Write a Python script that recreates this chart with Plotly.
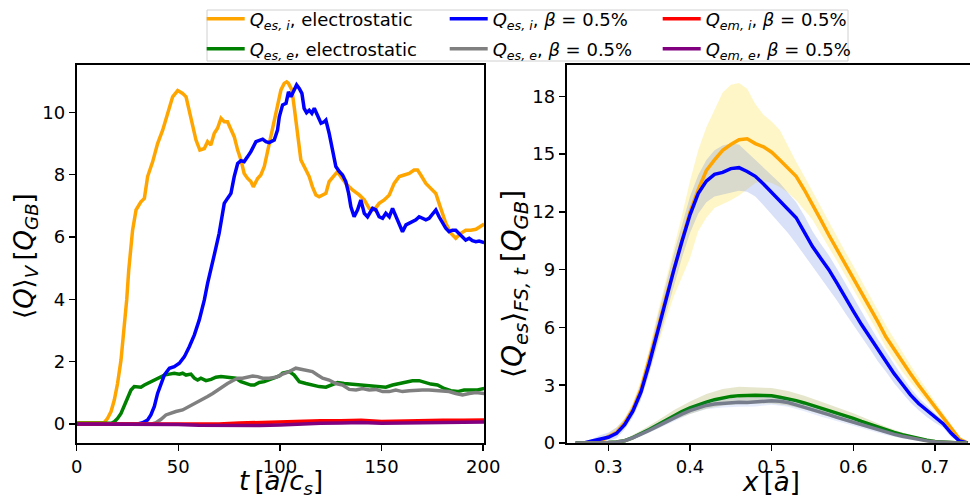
import numpy as np
import plotly.graph_objects as go

# ---------------- Left panel: <Q>_V vs t ----------------
t_qesi_es = [0, 5, 10, 13.6, 15.2, 16.9, 18.5, 20.1, 21.8, 23.4, 24.6, 25.6, 26.7, 27.5, 29.2, 31.6, 33.3, 34.9,
             37.4, 39.8, 42.3, 43.9, 45.6, 47.2, 49.7, 52.1, 53.8, 55.4, 57, 58.7, 60.6, 62.8, 64.4, 66, 67.7,
             69.3, 71, 72.6, 74.2, 75.9, 77.5, 79.2, 80.8, 82.4, 84.1, 85.7, 86.9, 89, 90.6, 92.3, 93.9, 95.6,
             97.2, 98.8, 100.5, 102.1, 103.3, 104.2, 105.9, 107, 108.7, 110.3, 112.8, 114.4, 116, 117.7, 119.3,
             120.9, 122.6, 124.2, 126.7, 128.3, 129.9, 132.4, 135.7, 139, 141.5, 143.9, 146.4, 148.8, 151.3,
             153.8, 156.2, 158.7, 161.1, 163.6, 166, 167.7, 169.3, 171.8, 174.2, 176.7, 178.3, 180, 181.6,
             184.1, 186.5, 189, 191.4, 193.9, 196.4, 198.4, 200.5]
q_qesi_es = [0.04, 0.05, 0.04, 0.05, 0.18, 0.4, 0.77, 1.3, 2.05, 3.12, 3.98, 4.94, 5.58, 6.22, 6.87, 7.13, 7.24, 7.94,
             8.42, 9.0, 9.43, 9.75, 10.18, 10.5, 10.7, 10.61, 10.5, 10.07, 9.59, 9.11, 8.79, 8.84, 9.06, 8.95, 9.33,
             9.49, 9.81, 9.7, 9.7, 9.43, 9.22, 8.79, 8.47, 8.04, 7.88, 7.78, 7.61, 7.88, 7.99, 8.26, 8.74, 9.22,
             9.65, 10.18, 10.72, 10.93, 10.98, 10.93, 10.72, 10.18, 9.22, 8.47, 8.15, 7.94, 7.61, 7.35, 7.29,
             7.35, 7.4, 7.78, 7.99, 8.1, 7.94, 7.72, 7.51, 7.35, 7.19, 6.92, 6.87, 7.08, 7.19,
             7.35, 7.72, 7.94, 7.99, 8.04, 8.15, 8.15, 7.99, 7.72, 7.56, 7.4, 7.08, 6.76, 6.44,
             6.12, 5.96, 6.12, 6.22, 6.22, 6.25, 6.33, 6.42]

t_qese_es = [0, 17, 18.5, 20.1, 21.8, 23.4, 25.1, 26.7, 28.3, 30, 31.6, 33.3, 34.9, 36.5, 38.2, 39.8, 41.5, 43.1,
             45.6, 48, 50.5, 52.1, 53.8, 56.2, 57.9, 59.5, 61.1, 63.6, 66.1, 68.5, 71, 73.4, 75.9, 78.3, 80.8,
             83.3, 85.7, 87.4, 89.8, 92.3, 94.7, 97.2, 99.7, 101.3, 104.6, 107, 109.5, 112.8, 116, 119.3, 122.6,
             125.1, 128.3, 131.6, 134.9, 139, 142.3, 145.6, 148.8, 152.1, 155.4, 158.7, 162, 165.2, 168.5, 171,
             174.2, 177.5, 180.8, 184.1, 187.4, 190.6, 193.9, 197.2, 200.5]
q_qese_es = [0.02, 0.02, 0.07, 0.18, 0.34, 0.61, 0.88, 1.09, 1.2, 1.2, 1.18, 1.25, 1.3, 1.36, 1.41, 1.47, 1.52, 1.57,
             1.6, 1.63, 1.6, 1.63, 1.57, 1.6, 1.47, 1.41, 1.47, 1.39, 1.43, 1.5, 1.52, 1.5, 1.47, 1.47, 1.36,
             1.3, 1.25, 1.25, 1.33, 1.36, 1.41, 1.47, 1.54, 1.63, 1.68, 1.57, 1.36, 1.3, 1.25, 1.2, 1.18,
             1.25, 1.33, 1.3, 1.28, 1.25, 1.22, 1.2, 1.18, 1.18, 1.25, 1.3, 1.36, 1.39, 1.39, 1.33,
             1.28, 1.25, 1.14, 1.07, 1.04, 1.09, 1.09, 1.09, 1.14]

t_qesi_em = [0, 30, 32.4, 34.9, 36.5, 38.2, 39.8, 41.5, 43.1, 45.6, 48, 50.5, 53, 55.4, 57.9, 60.3, 62.8, 64.4, 66.1,
             67.6, 70.1, 72.6, 74.2, 75.9, 77.5, 79.2, 80.8, 82.4, 84.1, 85.7, 88.2, 89.8, 91.5, 93.1, 94.7,
             97.2, 98.8, 99.7, 101.3, 103, 104.2, 105.4, 107, 108.2, 109.5, 110.8, 111.9, 113.1, 114.4, 115.7,
             116.9, 118.5, 120.2, 121.8, 122.6, 124.2, 125.9, 127.5, 129.2, 130.8, 132.4, 133.8, 134.9, 136.5,
             138.2, 139.8, 141.5, 143.1, 145.6, 147.2, 148.8, 150.5, 152.1, 153.8, 155.4, 157, 158.7, 160.3,
             162, 163.6, 165.2, 166.9, 168.5, 170.1, 171.8, 173.4, 175.1, 176.7, 178.3, 180, 181.6, 183.2,
             184.9, 186.5, 188.2, 189.8, 191.4, 193.1, 194.7, 196.4, 198, 200.5]
q_qesi_em = [0, 0.0, 0.04, 0.13, 0.29, 0.56, 0.98, 1.3, 1.57, 1.79, 1.84, 1.95, 2.16, 2.48, 2.86, 3.34, 3.98, 4.51, 5.05,
             5.4, 6.12, 7.08, 7.24, 7.4, 7.94, 8.36, 8.45, 8.42, 8.58, 8.74, 9.06, 9.09, 9.14, 9.06, 9.03,
             9.11, 9.43, 9.86, 10.24, 10.29, 10.66, 10.5, 10.72, 10.88, 10.77, 10.61, 10.13, 9.99, 10.07, 9.97,
             10.13, 9.86, 9.65, 9.7, 9.75, 9.33, 8.79, 8.26, 8.1, 7.99, 7.78, 7.4, 6.97, 6.65,
             6.87, 7.19, 6.76, 6.65, 6.92, 6.87, 6.65, 6.6, 6.76, 6.65, 6.92, 6.65, 6.39, 6.17,
             6.39, 6.44, 6.49, 6.55, 6.65, 6.6, 6.55, 6.6, 6.76, 6.87, 6.65, 6.44, 6.28, 6.17,
             6.22, 6.22, 6.12, 6.01, 5.9, 5.96, 5.88, 5.85, 5.87, 5.82]

t_qese_em = [0, 37, 39, 41.5, 43.9, 46.4, 48.8, 52.1, 55.4, 58.7, 61.9, 64.4, 66.9, 69.3, 71.8, 74.2, 76.7, 79.2,
             81.6, 84.1, 86.6, 89, 91.5, 94.7, 98, 101.3, 104.6, 107.8, 110.3, 112.8, 116, 118.5, 121, 124.2,
             127.5, 130.8, 134.1, 137.4, 140.6, 143.9, 147.2, 150.5, 153.8, 157, 160.3, 163.6, 166.9, 170.1,
             173.4, 176.7, 180, 183.2, 186.5, 189.8, 193.1, 196.4, 200.5]
q_qese_em = [0, 0.0, 0.04, 0.15, 0.29, 0.36, 0.4, 0.45, 0.56, 0.66, 0.77, 0.88, 0.98, 1.09, 1.2, 1.3, 1.39, 1.47,
             1.47, 1.5, 1.54, 1.52, 1.47, 1.47, 1.5, 1.6, 1.68, 1.79, 1.75, 1.73, 1.68, 1.57, 1.47, 1.41,
             1.3, 1.25, 1.11, 1.09, 1.14, 1.09, 1.11, 1.04, 1.04, 1.09, 1.04, 1.07, 1.09, 1.09,
             1.09, 1.07, 1.04, 1.04, 0.98, 0.93, 0.98, 1.01, 0.98]

t_qemi = [0, 20, 40, 60, 70, 80, 90, 100, 110, 120, 130, 140, 150, 160, 170, 180, 190, 200.5]
q_qemi = [0, 0.0, 0.0, 0.01, 0.0, 0.03, 0.05, 0.08, 0.09, 0.1, 0.1, 0.12, 0.08, 0.1, 0.11, 0.12, 0.12, 0.13]

t_qeme = [0, 20, 40, 50, 60, 70, 80, 90, 100, 110, 120, 130, 140, 150, 160, 170, 180, 190, 200.5]
q_qeme = [0, 0, -0.01, -0.02, -0.04, -0.05, -0.04, -0.05, -0.03, 0.0, 0.02, 0.03, 0.05, 0.02, 0.03, 0.04, 0.04, 0.05, 0.06]

# ---------------- Right panel: radial profiles ----------------
x_prof = np.round(np.linspace(0.26, 0.74, 49), 2)
prof_qesi_es = [0, 0, 0.02, 0.1, 0.3, 0.55, 1.04, 1.75, 2.8, 4.25,
                5.85, 7.45, 9.0, 10.55, 12.0, 13.15, 14.15, 14.7, 15.2, 15.5,
                15.75, 15.8, 15.55, 15.38, 15.1, 14.7, 14.3, 13.85, 13.15, 12.4,
                11.6, 10.8, 10.05, 9.3, 8.55, 7.85, 7.1, 6.3, 5.5, 4.85,
                4.2, 3.6, 3.0, 2.45, 1.9, 1.35, 0.8, 0.2, 0]
lo_qesi_es = [0, 0, 0, 0.05, 0.2, 0.4, 0.8, 1.4, 2.3, 3.6,
              5.0, 6.3, 7.6, 8.6, 9.6, 11.0, 11.7, 12.2, 12.4, 12.6,
              12.85, 13.15, 13.5, 13.6, 13.5, 13.3, 13.0, 12.6, 12.1, 11.6,
              10.9, 10.15, 9.45, 8.7, 7.95, 7.25, 6.5, 5.75, 4.95, 4.35,
              3.7, 3.15, 2.6, 2.1, 1.6, 1.1, 0.6, 0.1, 0]
hi_qesi_es = [0, 0, 0.05, 0.2, 0.5, 0.8, 1.3, 2.1, 3.3, 4.9,
              6.7, 8.4, 10.0, 11.8, 13.6, 15.2, 16.4, 17.3, 18.2, 18.6,
              18.7, 18.4, 17.6, 17.05, 16.7, 16.25, 15.4, 14.6, 13.85, 13.1,
              12.3, 11.5, 10.7, 9.95, 9.2, 8.45, 7.7, 6.9, 6.1, 5.4,
              4.7, 4.05, 3.4, 2.8, 2.2, 1.6, 0.95, 0.3, 0]

prof_qesi_em = [0, 0, 0.1, 0.22, 0.3, 0.5, 0.95, 1.65, 2.65, 4.1,
                5.75, 7.4, 8.95, 10.45, 11.85, 12.95, 13.6, 13.95, 14.05, 14.25,
                14.3, 14.1, 13.85, 13.45, 13.0, 12.6, 12.15, 11.7, 10.95, 10.2,
                9.6, 9.0, 8.3, 7.55, 6.85, 6.15, 5.5, 4.85, 4.25, 3.6,
                3.05, 2.5, 2.05, 1.7, 1.35, 1.0, 0.5, 0.1, 0]
lo_qesi_em = [0, 0, 0.02, 0.08, 0.12, 0.25, 0.7, 1.35, 2.25, 3.6,
              5.0, 6.6, 8.1, 9.6, 10.9, 11.9, 12.5, 12.8, 12.9, 13.0,
              13.1, 13.05, 12.8, 12.35, 11.9, 11.4, 10.9, 10.35, 9.8, 9.2,
              8.6, 8.0, 7.4, 6.75, 6.1, 5.5, 4.9, 4.25, 3.7, 3.1,
              2.6, 2.1, 1.7, 1.35, 1.05, 0.8, 0.3, 0.05, 0]
hi_qesi_em = [0, 0.02, 0.2, 0.4, 0.55, 0.8, 1.25, 2.0, 3.1, 4.7,
              6.5, 8.2, 9.8, 11.3, 12.8, 13.9, 14.7, 15.2, 15.45, 15.55,
              15.5, 15.1, 14.7, 14.3, 13.9, 13.5, 13.0, 12.5, 11.8, 11.0,
              10.35, 9.75, 9.05, 8.3, 7.55, 6.8, 6.1, 5.4, 4.75, 4.05,
              3.45, 2.85, 2.35, 1.95, 1.55, 1.15, 0.65, 0.15, 0]

prof_qese_es = [0, 0, 0, 0, 0.02, 0.05, 0.12, 0.28, 0.48, 0.7,
                0.93, 1.18, 1.42, 1.63, 1.82, 1.98, 2.12, 2.25, 2.35, 2.42,
                2.46, 2.48, 2.48, 2.47, 2.45, 2.38, 2.3, 2.2, 2.08, 1.95,
                1.82, 1.68, 1.55, 1.42, 1.28, 1.12, 0.97, 0.82, 0.68, 0.55,
                0.43, 0.32, 0.22, 0.14, 0.08, 0.04, 0.02, 0, 0]
prof_qese_em = [0, 0, 0, 0, 0.02, 0.05, 0.12, 0.27, 0.45, 0.65,
                0.86, 1.08, 1.3, 1.5, 1.68, 1.83, 1.95, 2.03, 2.07, 2.1,
                2.12, 2.1, 2.13, 2.18, 2.2, 2.17, 2.1, 1.98, 1.86, 1.73,
                1.6, 1.47, 1.33, 1.2, 1.07, 0.94, 0.81, 0.68, 0.56, 0.45,
                0.35, 0.26, 0.18, 0.11, 0.06, 0.03, 0.01, 0, 0]

x_band_e = np.round(np.linspace(0.30, 0.74, 23), 2)
hi_qese_es = [0.05, 0.2, 0.65, 1.15, 1.7, 2.15, 2.55, 2.8, 2.92, 2.9, 2.85, 2.7, 2.45, 2.15, 1.85, 1.55, 1.2, 0.85, 0.55, 0.3, 0.12, 0.04, 0]
lo_qese_es = [0, 0.06, 0.38, 0.78, 1.2, 1.5, 1.78, 1.95, 2.02, 2.05, 2.05, 1.95, 1.75, 1.5, 1.25, 1.0, 0.75, 0.52, 0.32, 0.15, 0.05, 0, 0]
hi_qese_em = [0.05, 0.18, 0.58, 1.02, 1.5, 1.9, 2.18, 2.3, 2.35, 2.38, 2.42, 2.32, 2.05, 1.78, 1.5, 1.22, 0.95, 0.68, 0.45, 0.25, 0.1, 0.03, 0]
lo_qese_em = [0, 0.06, 0.34, 0.72, 1.12, 1.5, 1.75, 1.85, 1.88, 1.9, 1.98, 1.88, 1.65, 1.38, 1.14, 0.88, 0.65, 0.42, 0.24, 0.1, 0.03, 0, 0]

x_ticks_left = [0, 50, 100, 150, 200]
y_ticks_left = [0, 2, 4, 6, 8, 10]
x_ticks_right = [0.3, 0.4, 0.5, 0.6, 0.7]
y_ticks_right = [0, 3, 6, 9, 12, 15, 18]

names = {
    "qesi_es": "<i>Q</i><sub><i>es, i</i></sub>, electrostatic",
    "qese_es": "<i>Q</i><sub><i>es, e</i></sub>, electrostatic",
    "qesi_em": "<i>Q</i><sub><i>es, i</i></sub>, <i>β</i> = 0.5%",
    "qese_em": "<i>Q</i><sub><i>es, e</i></sub>, <i>β</i> = 0.5%",
    "qemi": "<i>Q</i><sub><i>em, i</i></sub>, <i>β</i> = 0.5%",
    "qeme": "<i>Q</i><sub><i>em, e</i></sub>, <i>β</i> = 0.5%",
}

W, H = 970, 497
LW = 3.5
fig = go.Figure()

def line(x, y, color, name=None, leg=None, lw=None, axes=("x", "y"), width=LW):
    return go.Scatter(x=list(x), y=list(y), mode="lines", line=dict(color=color, width=width),
                      name=name or "", showlegend=name is not None, legend=leg or "legend",
                      legendwidth=lw, xaxis=axes[0], yaxis=axes[1], hoverinfo="skip")

# left panel (draw order: orange, green, blue, gray, red, purple)
fig.add_trace(line(t_qesi_es, q_qesi_es, "orange", names["qesi_es"], "legend", 190))
fig.add_trace(line(t_qese_es, q_qese_es, "green", names["qese_es"], "legend2", 190))
fig.add_trace(line(t_qesi_em, q_qesi_em, "blue", names["qesi_em"], "legend", 160))
fig.add_trace(line(t_qese_em, q_qese_em, "gray", names["qese_em"], "legend2", 160))
fig.add_trace(line(t_qemi, q_qemi, "red", names["qemi"], "legend", 150))
fig.add_trace(line(t_qeme, q_qeme, "purple", names["qeme"], "legend2", 150))

def band(x, lo, hi, fill):
    xs = list(x) + list(x)[::-1]
    ys = list(hi) + list(lo)[::-1]
    return go.Scatter(x=xs, y=ys, mode="lines", fill="toself", fillcolor=fill, line=dict(width=0),
                      showlegend=False, xaxis="x2", yaxis="y2", hoverinfo="skip")

fig.add_trace(band(x_prof, lo_qesi_es, hi_qesi_es, "rgba(255,215,0,0.22)"))
fig.add_trace(band(x_prof, lo_qesi_em, hi_qesi_em, "rgba(65,105,225,0.2)"))
fig.add_trace(band(x_band_e, lo_qese_es, hi_qese_es, "rgba(128,128,0,0.2)"))
fig.add_trace(line(x_prof, prof_qesi_es, "orange", axes=("x2", "y2")))
fig.add_trace(line(x_prof, prof_qesi_em, "blue", axes=("x2", "y2")))
fig.add_trace(line(x_prof, prof_qese_es, "green", axes=("x2", "y2")))
fig.add_trace(line(x_prof, prof_qese_em, "gray", axes=("x2", "y2")))
fig.add_trace(band(x_band_e, lo_qese_em, hi_qese_em, "rgba(65,105,225,0.13)"))

ax_common = dict(showline=True, linewidth=2, linecolor="black", ticks="outside", ticklen=6, tickwidth=1.5,
                 tickcolor="black", showgrid=False, zeroline=False, automargin=False,
                 tickfont=dict(family="DejaVu Sans", size=18, color="black"))
y_dom = [1 - 443 / H, 1 - 65 / H]

leg_common = dict(orientation="h", xanchor="left", yanchor="middle", itemwidth=38,
                  bgcolor="rgba(0,0,0,0)", borderwidth=0,
                  font=dict(family="DejaVu Sans", size=18, color="black"))

TF = dict(family="DejaVu Sans", size=26, color="black")
TS = "\u2009"

fig.update_layout(
    width=W, height=H, margin=dict(l=0, r=0, t=0, b=0, autoexpand=False),
    paper_bgcolor="white", plot_bgcolor="white",
    font=dict(family="DejaVu Sans", size=18, color="black"),
    xaxis=dict(domain=[76.7 / W, 484 / W], range=[0, 200.4], tickvals=x_ticks_left, mirror=True, anchor="y", **ax_common),
    yaxis=dict(domain=y_dom, range=[-0.61, 11.52], tickvals=y_ticks_left, mirror=True, anchor="x", **ax_common),
    xaxis2=dict(domain=[566.7 / W, 1.0], range=[0.2490, 0.7429], tickvals=x_ticks_right,
                ticktext=[f"{v:.1f}" for v in x_ticks_right], mirror=True, anchor="y2", **ax_common),
    yaxis2=dict(domain=y_dom, range=[0, 19.63], tickvals=y_ticks_right, mirror=False, anchor="x2", **ax_common),
    legend=dict(x=201.7 / W, y=1 - 19 / H, **leg_common),
    legend2=dict(x=201.7 / W, y=1 - 49 / H, **leg_common),
    shapes=[dict(type="rect", xref="paper", yref="paper", x0=207 / W, x1=848 / W, y0=1 - 61 / H, y1=1 - 10 / H,
                 line=dict(color="#d0d0d0", width=1), fillcolor="rgba(255,255,255,0)", layer="below")],
    annotations=[
        dict(text=f"⟨<i>Q</i>⟩<sub><i>V</i></sub>{TS}[<i>Q</i><sub><i>GB</i></sub>]", xref="paper", yref="paper",
             x=25 / W, y=1 - 256 / H, textangle=-90, showarrow=False, xanchor="center", yanchor="middle", font=TF),
        dict(text=f"<i>t</i>{TS}[<i>a</i>/<i>c</i><sub><i>s</i></sub>]", xref="paper", yref="paper",
             x=281 / W, y=1 - 482 / H, showarrow=False, xanchor="center", yanchor="middle", font=TF),
        dict(text=f"⟨<i>Q</i><sub><i>es</i></sub>⟩<sub><i>FS, t</i></sub>{TS}[<i>Q</i><sub><i>GB</i></sub>]",
             xref="paper", yref="paper", x=514 / W, y=1 - 284 / H, textangle=-90, showarrow=False,
             xanchor="center", yanchor="middle", font=dict(family="DejaVu Sans", size=28, color="black")),
        dict(text=f"<i>x</i>{TS}[<i>a</i>]", xref="paper", yref="paper",
             x=771 / W, y=1 - 482 / H, showarrow=False, xanchor="center", yanchor="middle", font=TF),
    ],
)

fig.write_html("out.html", config={"displayModeBar": False, "staticPlot": True},
               post_script="document.body.style.margin='0px';document.body.style.overflow='hidden';")
